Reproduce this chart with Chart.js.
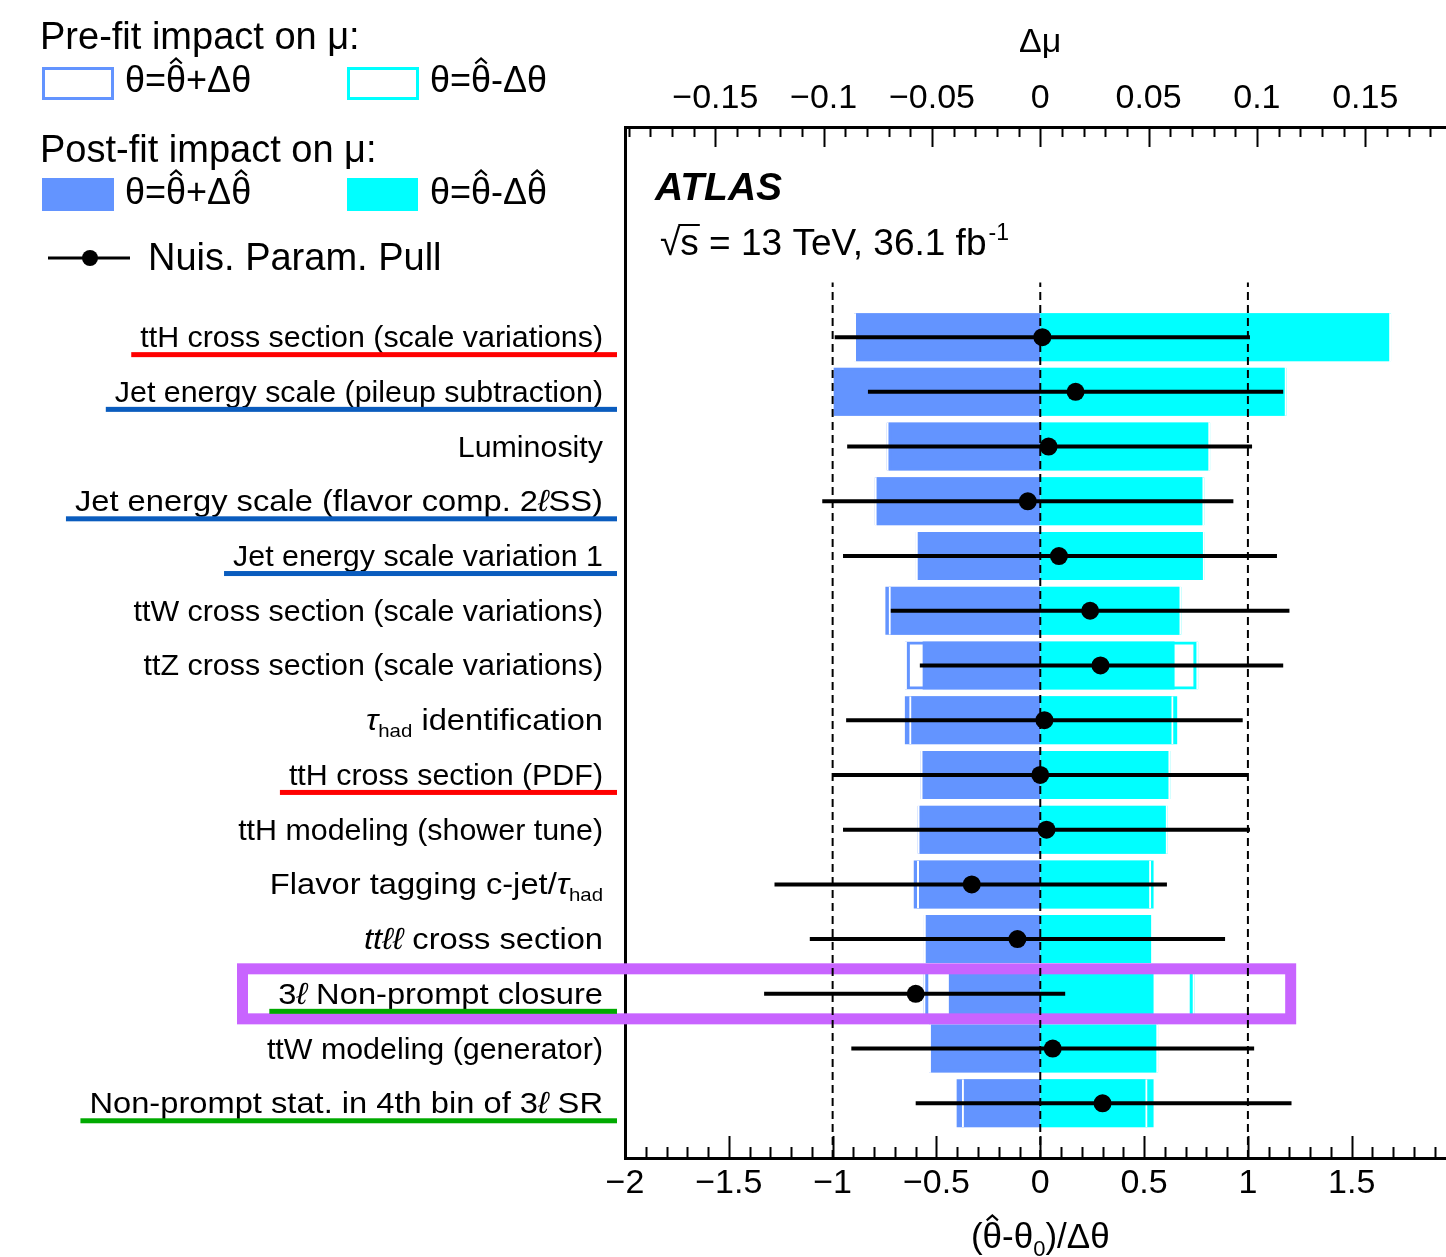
<!DOCTYPE html>
<html>
<head>
<meta charset="utf-8">
<title>Nuisance parameter ranking</title>
<script src="https://cdn.jsdelivr.net/npm/chart.js@4.4.1/dist/chart.umd.min.js"></script>
<style>
  html, body { margin: 0; padding: 0; background: #fff; overflow: hidden; }
  #wrap { width: 1470px; height: 1257px; position: relative; }
</style>
</head>
<body>
<div id="wrap"><canvas id="rankingChart"></canvas></div>
<script>
const FONT = '"Liberation Sans", Arial, Helvetica, sans-serif';
const BLUE = 'rgb(99,148,255)';
const CYAN = 'rgb(0,255,255)';

// nuisance parameters, ranked by post-fit impact (top to bottom)
// markup: _{..} subscript, ^{..} superscript, #it{..} italic, #hat{..} hat
const nuisanceLabels = [
    'ttH cross section (scale variations)',
    'Jet energy scale (pileup subtraction)',
    'Luminosity',
    'Jet energy scale (flavor comp. 2#it{ℓ}SS)',
    'Jet energy scale variation 1',
    'ttW cross section (scale variations)',
    'ttZ cross section (scale variations)',
    '#it{τ}_{had} identification',
    'ttH cross section (PDF)',
    'ttH modeling (shower tune)',
    'Flavor tagging c-jet/#it{τ}_{had}',
    '#it{ttℓℓ} cross section',
    '3#it{ℓ} Non-prompt closure',
    'ttW modeling (generator)',
    'Non-prompt stat. in 4th bin of 3#it{ℓ} SR'
];
const underlineColors = [
    'rgb(255,0,0)', 'rgb(10,92,190)', null, 'rgb(10,92,190)', 'rgb(10,92,190)',
    null, null, null, 'rgb(255,0,0)', null,
    null, null, 'rgb(0,170,0)', null, 'rgb(0,170,0)'
];
const highlightedRow = 12;

// post-fit impact on mu (theta = theta_hat +/- delta theta_hat)
const postfitUp = [-0.0850, -0.0953, -0.0700, -0.0755, -0.0565, -0.0715, -0.0543, -0.0625,
                   -0.0543, -0.0557, -0.0584, -0.0528, -0.0422, -0.0504, -0.0386];
const postfitDown = [0.1610, 0.1128, 0.0775, 0.0748, 0.0750, 0.0642, 0.0620, 0.0632,
                     0.0591, 0.0579, 0.0523, 0.0511, 0.0523, 0.0535, 0.0523];
// pre-fit impact on mu (theta = theta_hat +/- delta theta)
const prefitUp = [-0.0860, -0.0963, -0.0710, -0.0765, -0.0575, -0.0700, -0.0625, -0.0605,
                  -0.0553, -0.0567, -0.0569, -0.0538, -0.0540, -0.0514, -0.0362];
const prefitDown = [0.1620, 0.1138, 0.0785, 0.0758, 0.0760, 0.0652, 0.0730, 0.0615,
                    0.0601, 0.0589, 0.0512, 0.0521, 0.0713, 0.0545, 0.0495];

// pulls (theta_hat - theta_0)/delta theta and their post-fit errors
const pulls = [0.01, 0.17, 0.04, -0.06, 0.09, 0.24, 0.29, 0.02, 0.00, 0.03, -0.33, -0.11, -0.60, 0.06, 0.30];
const pullErrLo = [1.00, 1.00, 0.97, 0.99, 1.04, 0.96, 0.87, 0.955, 1.00, 0.98, 0.95, 1.00, 0.73, 0.97, 0.90];
const pullErrHi = [1.00, 1.00, 0.98, 0.99, 1.05, 0.96, 0.88, 0.955, 1.00, 0.98, 0.94, 1.00, 0.72, 0.97, 0.91];

const pullTicks = [-2, -1.5, -1, -0.5, 0, 0.5, 1, 1.5, 2];
const impactTicks = [-0.15, -0.1, -0.05, 0, 0.05, 0.1, 0.15];
const guideLines = [-1, 0, 1];

const IMPACT_RANGE = 0.1917;   // top axis spans the same width as pull -2..2
const rows = nuisanceLabels.map((_, i) => nuisanceLabels.length - i);

const formatTick = v => (v < 0 ? '\u2212' : '') + Math.abs(v);

// --- tiny TLatex-like text renderer ---------------------------------------
function parseRich(str) {
    const out = [];
    let buf = '', i = 0;
    while (i < str.length) {
        const m = str.slice(i).match(/^(_|\^|#it|#hat)\{/);
        if (m) {
            if (buf) { out.push({ text: buf, style: '' }); buf = ''; }
            const end = str.indexOf('}', i + m[0].length);
            out.push({ text: str.slice(i + m[0].length, end), style: m[1] });
            i = end + 1;
        } else {
            buf += str[i++];
        }
    }
    if (buf) out.push({ text: buf, style: '' });
    return out;
}
function segFont(style, size) {
    if (style === '_' || style === '^') return `${Math.round(size * 0.62)}px ${FONT}`;
    if (style === '#it') return `italic ${size}px ${FONT}`;
    return `${size}px ${FONT}`;
}
// latex-style strings come out a little wider than plain text, so they get a stretch
function drawRich(ctx, str, x, y, size, align, stretch = 1) {
    const segs = parseRich(str);
    let width = 0;
    segs.forEach(s => { ctx.font = segFont(s.style, size); width += ctx.measureText(s.text).width; });
    const total = width * stretch;
    const start = align === 'right' ? x - total : align === 'center' ? x - total / 2 : x;
    ctx.save();
    ctx.translate(start, 0);
    ctx.scale(stretch, 1);
    ctx.textAlign = 'left';
    ctx.textBaseline = 'alphabetic';
    let cx = 0;
    segs.forEach(s => {
        ctx.font = segFont(s.style, size);
        const dy = s.style === '_' ? 0.22 * size : s.style === '^' ? -0.42 * size : 0;
        ctx.fillText(s.text, cx, y + dy);
        const w = ctx.measureText(s.text).width;
        if (s.style === '#hat') {
            const mid = cx + w / 2, hw = 0.16 * size;
            ctx.beginPath();
            ctx.moveTo(mid - hw, y - 0.79 * size);
            ctx.lineTo(mid, y - 0.93 * size);
            ctx.lineTo(mid + hw, y - 0.79 * size);
            ctx.lineWidth = Math.max(1.5, size * 0.06);
            ctx.strokeStyle = ctx.fillStyle;
            ctx.stroke();
        }
        cx += w;
    });
    ctx.restore();
    return { start, end: start + total };
}

// --- extra drawing: inward ticks, labels, legend, annotations -------------
function drawInwardTicks(ctx, scale, axisY, dir, minor, perMajor, majorLen, minorLen) {
    const first = Math.ceil(scale.min / minor - 1e-6);
    const last = Math.floor(scale.max / minor + 1e-6);
    ctx.beginPath();
    for (let n = first; n <= last; n++) {
        const px = Math.round(scale.getPixelForValue(n * minor)) + 0.5;
        const len = n % perMajor === 0 ? majorLen : minorLen;
        ctx.moveTo(px, axisY);
        ctx.lineTo(px, axisY + dir * len);
    }
    ctx.stroke();
}

function drawHighlight(chart) {
    const { ctx, scales: { x, y } } = chart;
    const row = rows[highlightedRow];
    const top = y.getPixelForValue(row + 0.457);
    const bottom = y.getPixelForValue(row - 0.457);
    const right = x.getPixelForValue(1.206);
    ctx.save();
    ctx.strokeStyle = 'rgb(200,100,255)';
    ctx.lineWidth = 11;
    ctx.strokeRect(242.5, top, right - 242.5, bottom - top);
    ctx.restore();
}

function drawLegend(ctx) {
    ctx.fillStyle = '#000';
    ctx.textAlign = 'left';
    ctx.textBaseline = 'alphabetic';
    ctx.font = `38px ${FONT}`;
    ctx.fillText('Pre-fit impact on μ:', 40, 49);
    ctx.lineWidth = 3;
    ctx.strokeStyle = BLUE;
    ctx.strokeRect(43.5, 68.5, 69, 30);
    ctx.strokeStyle = CYAN;
    ctx.strokeRect(348.5, 68.5, 69, 30);
    drawRich(ctx, 'θ=#hat{θ}+Δθ', 125, 92, 36);
    drawRich(ctx, 'θ=#hat{θ}-Δθ', 430, 92, 36);

    ctx.font = `38px ${FONT}`;
    ctx.fillText('Post-fit impact on μ:', 40, 162);
    ctx.fillStyle = BLUE;
    ctx.fillRect(42, 178, 72, 33);
    ctx.fillStyle = CYAN;
    ctx.fillRect(347, 178, 71, 33);
    ctx.fillStyle = '#000';
    drawRich(ctx, 'θ=#hat{θ}+Δ#hat{θ}', 125, 204, 36);
    drawRich(ctx, 'θ=#hat{θ}-Δ#hat{θ}', 430, 204, 36);

    ctx.strokeStyle = '#000';
    ctx.beginPath();
    ctx.moveTo(48, 258);
    ctx.lineTo(130, 258);
    ctx.stroke();
    ctx.beginPath();
    ctx.arc(90, 258, 8, 0, Math.PI * 2);
    ctx.fill();
    ctx.font = `38px ${FONT}`;
    ctx.fillText('Nuis. Param. Pull', 148, 270);
}

function drawAtlasLabel(ctx) {
    ctx.fillStyle = '#000';
    ctx.textAlign = 'left';
    ctx.textBaseline = 'alphabetic';
    ctx.font = `bold italic 39px ${FONT}`;
    ctx.fillText('ATLAS', 655, 200);

    ctx.font = `37px ${FONT}`;
    const base = 255;
    let cx = 660;
    ctx.fillText('√', cx, base);
    cx += ctx.measureText('√').width;
    ctx.fillText('s', cx, base);
    const sw = ctx.measureText('s').width;
    ctx.fillRect(cx - 2, base - 31, sw + 3, 2);
    cx += sw;
    const rest = ' = 13 TeV, 36.1 fb';
    ctx.fillText(rest, cx, base);
    cx += ctx.measureText(rest).width;
    ctx.font = `23px ${FONT}`;
    ctx.fillText('-1', cx + 2, base - 15);
}

const rankingDecorations = {
    id: 'rankingDecorations',
    afterDatasetDraw(chart, args) {
        if (chart.data.datasets[args.index].role === 'lastPrefit') drawHighlight(chart);
    },
    afterDraw(chart) {
        const { ctx, chartArea, scales: { x, xTop, y } } = chart;
        ctx.save();
        ctx.strokeStyle = '#000';
        ctx.lineWidth = 2;
        drawInwardTicks(ctx, x, chartArea.bottom, -1, 0.1, 5, 22, 11);
        drawInwardTicks(ctx, xTop, chartArea.top, 1, 0.01, 5, 20, 10);

        // parameter names with coloured underlines
        nuisanceLabels.forEach((label, i) => {
            const py = y.getPixelForValue(rows[i]);
            const stretch = /[#_]/.test(label) ? 1.075 : 1;
            ctx.fillStyle = '#000';
            const ext = drawRich(ctx, label, 603, py + 10, 30.4, 'right', stretch);
            if (underlineColors[i]) {
                ctx.fillStyle = underlineColors[i];
                ctx.fillRect(ext.start - 9, py + 15, 617 - (ext.start - 9), 5);
            }
        });

        drawLegend(ctx);
        drawAtlasLabel(ctx);
        ctx.fillStyle = '#000';
        drawRich(ctx, '(#hat{θ}-θ_{0})/Δθ', x.getPixelForValue(0), 1248, 35, 'center');
        ctx.restore();
    }
};

// --- datasets -------------------------------------------------------------
const impactBars = vals => vals.map((v, i) => ({ y: rows[i], x: [0, v] }));
const barCommon = {
    type: 'bar', indexAxis: 'y', grouped: false, barThickness: 48,
    borderSkipped: false, inflateAmount: 0, xAxisID: 'xTop', yAxisID: 'y'
};
const clear = 'rgba(0,0,0,0)';

const datasets = [
    { ...barCommon, label: 'Post-fit +', data: impactBars(postfitUp), backgroundColor: BLUE, borderWidth: 0, order: 9 },
    { ...barCommon, label: 'Post-fit -', data: impactBars(postfitDown), backgroundColor: CYAN, borderWidth: 0, order: 8 },
    { ...barCommon, label: 'Pre-fit +', data: impactBars(prefitUp), backgroundColor: clear, borderColor: BLUE,
      borderWidth: { left: 5, top: 3, bottom: 3, right: 0 }, order: 7 },
    { ...barCommon, label: 'Pre-fit -', data: impactBars(prefitDown), backgroundColor: clear, borderColor: CYAN,
      borderWidth: { right: 5, top: 3, bottom: 3, left: 0 }, order: 6 },
    { ...barCommon, label: 'Pre-fit + edge', data: impactBars(prefitUp), backgroundColor: clear, borderColor: '#fff',
      borderWidth: { left: 2, top: 0, bottom: 0, right: 0 }, order: 5 },
    { ...barCommon, label: 'Pre-fit - edge', role: 'lastPrefit', data: impactBars(prefitDown), backgroundColor: clear,
      borderColor: '#fff', borderWidth: { right: 2, top: 0, bottom: 0, left: 0 }, order: 4 },
    ...guideLines.map(g => ({
        type: 'line', label: 'guide ' + g, data: [{ x: g, y: 0 }, { x: g, y: 16 }],
        xAxisID: 'x', yAxisID: 'y', borderColor: '#000', borderWidth: 2, borderDash: [8, 5],
        pointRadius: 0, fill: false, order: 3
    })),
    { ...barCommon, label: 'Pull error', xAxisID: 'x', barThickness: 4,
      data: pulls.map((p, i) => ({ y: rows[i], x: [p - pullErrLo[i], p + pullErrHi[i]] })),
      backgroundColor: '#000', borderWidth: 0, order: 1 },
    { type: 'scatter', label: 'Nuis. Param. Pull', xAxisID: 'x', yAxisID: 'y',
      data: pulls.map((p, i) => ({ x: p, y: rows[i] })),
      pointRadius: 9, pointBackgroundColor: '#000', pointBorderWidth: 0, order: 0 }
];

const tickFont = { family: FONT, size: 34 };

new Chart(document.getElementById('rankingChart').getContext('2d'), {
    type: 'bar',
    data: { datasets },
    options: {
        responsive: true,
        maintainAspectRatio: false,
        animation: false,
        events: [],
        layout: { padding: { left: 0, right: 11, top: 0, bottom: 0 } },
        plugins: { legend: { display: false }, tooltip: { enabled: false } },
        scales: {
            x: {
                type: 'linear', position: 'bottom', min: -2, max: 2, offset: false,
                afterBuildTicks: s => { s.ticks = pullTicks.map(v => ({ value: v })); },
                afterFit: s => { s.height = 99; },
                grid: { display: false, drawTicks: false, offset: false },
                border: { display: true, color: '#000', width: 3 },
                ticks: { font: tickFont, color: '#000', padding: 5, maxRotation: 0, autoSkip: false, callback: formatTick }
            },
            xTop: {
                type: 'linear', axis: 'x', position: 'top', min: -IMPACT_RANGE, max: IMPACT_RANGE, offset: false,
                afterBuildTicks: s => { s.ticks = impactTicks.map(v => ({ value: v })); },
                afterFit: s => { s.height = 127; },
                grid: { display: false, drawTicks: false, offset: false },
                border: { display: true, color: '#000', width: 3 },
                ticks: { font: tickFont, color: '#000', padding: 8, maxRotation: 0, autoSkip: false, callback: formatTick },
                title: { display: true, text: 'Δμ', font: tickFont, color: '#000', padding: { top: 22, bottom: 0 } }
            },
            y: {
                type: 'linear', position: 'left', min: 0, max: 18.84, offset: false, beginAtZero: false,
                afterFit: s => { s.width = 625; },
                grid: { display: false, drawTicks: false, offset: false },
                border: { display: true, color: '#000', width: 3 },
                ticks: { display: false }
            }
        }
    },
    plugins: [rankingDecorations]
});
</script>
</body>
</html>
